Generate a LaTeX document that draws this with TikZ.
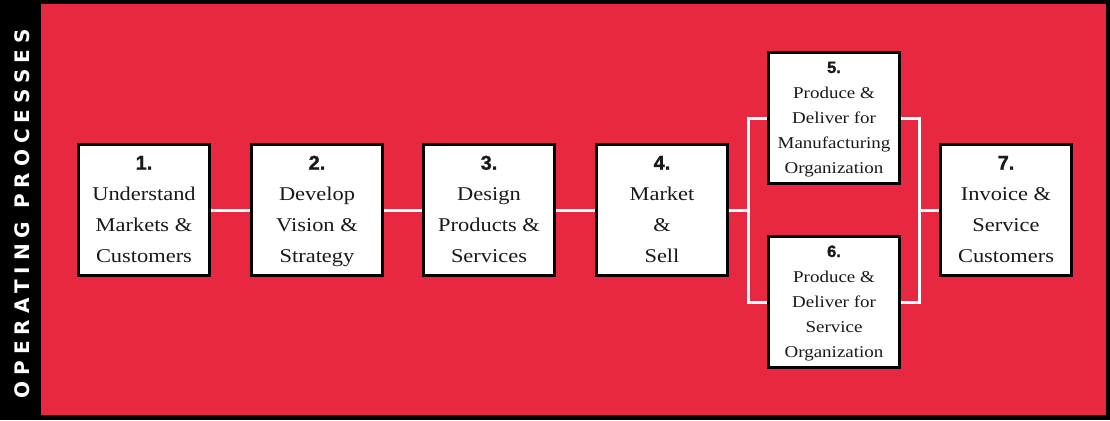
\documentclass[tikz,border=0pt]{standalone}
\usepackage{fontspec}
\usetikzlibrary{shadows}
\setmainfont{Liberation Serif}[FakeStretch=1.15]
\newfontfamily\numfont{Liberation Sans}[FakeBold=1.2]
\newfontfamily\sidefont{DejaVu Sans}[LetterSpace=30]
\definecolor{bgred}{RGB}{232,40,64}
\newcommand\bignum{\numfont\bfseries\fontsize{20}{31}\selectfont}
\newcommand\smlnum{\numfont\bfseries\fontsize{16.5}{25}\selectfont}
\newcommand\bigcell[1]{\fontsize{19.5}{31}\selectfont\begin{tabular}{@{}c@{}}#1\end{tabular}}
\newcommand\smlcell[1]{\fontsize{16.5}{25}\selectfont\begin{tabular}{@{}c@{}}#1\end{tabular}}
\begin{document}
\begin{tikzpicture}[x=1pt,y=-1pt,
  box/.style={draw=black, line width=3pt, fill=white, minimum width=131pt, minimum height=131pt, inner sep=0pt, text=black!90,
    drop shadow={shadow xshift=1.5pt, shadow yshift=-1.5pt, fill=black, opacity=1}},
  wire/.style={draw=white, line width=3pt},
]
\useasboundingbox (0,0) rectangle (1110,420);
\fill[black] (0,0) rectangle (1110,420);
\fill[bgred] (41,4) rectangle (1106,415);
\node[rotate=90, text=white, font=\sidefont\bfseries\fontsize{20}{20}\selectfont] (side) at (22,214) {OPERATING PROCESSES};

\coordinate (jl) at (748,210);
\coordinate (jr) at (919,210);

\node[box] (b1) at (144,210) {\bigcell{\bignum 1.\\Understand\\Markets \&\\Customers}};
\node[box] (b2) at (317,210) {\bigcell{\bignum 2.\\Develop\\Vision \&\\Strategy}};
\node[box] (b3) at (489,210) {\bigcell{\bignum 3.\\Design\\Products \&\\Services}};
\node[box] (b4) at (662,210) {\bigcell{\bignum 4.\\Market\\\&\\Sell}};
\node[box] (b5) at (834,118) {\smlcell{\smlnum 5.\\Produce \&\\Deliver for\\Manufacturing\\Organization}};
\node[box] (b6) at (834,302) {\smlcell{\smlnum 6.\\Produce \&\\Deliver for\\Service\\Organization}};
\node[box] (b7) at (1006,210) {\bigcell{\bignum 7.\\Invoice \&\\Service\\Customers}};

\draw[wire] (b1.east) -- (b2.west);
\draw[wire] (b2.east) -- (b3.west);
\draw[wire] (b3.east) -- (b4.west);
\draw[wire] (b4.east) -- (jl);
\draw[wire] (b5.west) -| (jl) |- (b6.west);
\draw[wire] (b5.east) -| (jr) |- (b6.east);
\draw[wire] (jr) -- (b7.west);
\end{tikzpicture}
\end{document}
